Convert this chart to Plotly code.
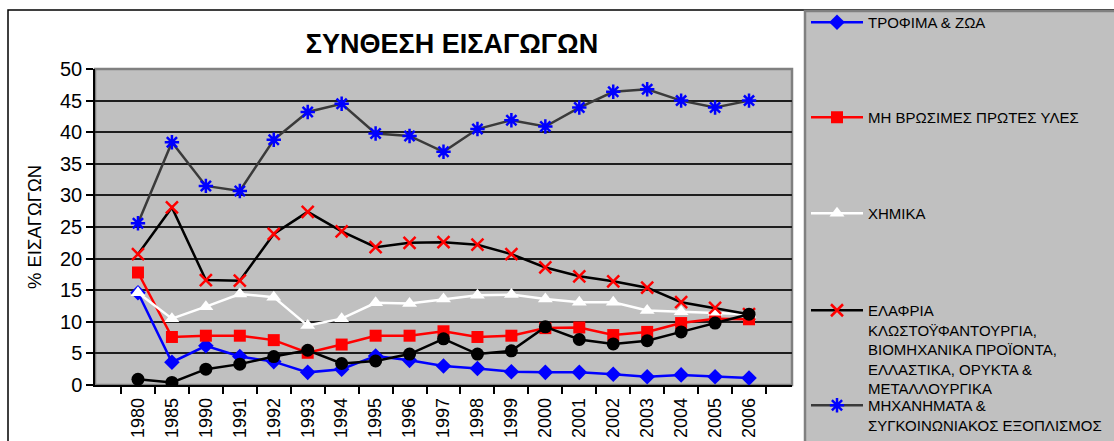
import plotly.graph_objects as go

W, H = 1114, 441

years = ["1980", "1985", "1990", "1991", "1992", "1993", "1994", "1995", "1996",
         "1997", "1998", "1999", "2000", "2001", "2002", "2003", "2004", "2005", "2006"]

trofima = [14.6, 3.6, 6.2, 4.5, 3.7, 2.0, 2.5, 4.6, 3.9, 3.0, 2.6, 2.1, 2.0, 2.0, 1.7, 1.3, 1.6, 1.3, 1.1]
protes_yles = [17.8, 7.6, 7.8, 7.8, 7.1, 5.1, 6.4, 7.8, 7.8, 8.5, 7.6, 7.8, 9.0, 9.1, 7.9, 8.4, 9.8, 10.5, 10.4]
ximika = [14.6, 10.5, 12.4, 14.4, 13.9, 9.4, 10.5, 13.0, 12.9, 13.6, 14.2, 14.3, 13.6, 13.1, 13.1, 11.8, 11.6, 11.5, 11.2]
elafria = [20.7, 28.1, 16.6, 16.5, 23.9, 27.4, 24.3, 21.8, 22.5, 22.6, 22.2, 20.7, 18.6, 17.2, 16.4, 15.4, 13.1, 12.2, 11.2]
mixanimata = [25.6, 38.4, 31.5, 30.7, 38.8, 43.2, 44.5, 39.8, 39.4, 36.9, 40.5, 41.9, 40.9, 43.9, 46.4, 46.8, 45.0, 43.9, 45.0]
loipa = [0.9, 0.4, 2.5, 3.3, 4.5, 5.5, 3.4, 3.8, 4.9, 7.3, 4.9, 5.4, 9.2, 7.2, 6.5, 7.0, 8.4, 9.8, 11.2]

names = [
    "ΤΡΟΦΙΜΑ & ΖΩΑ",
    "ΜΗ ΒΡΩΣΙΜΕΣ ΠΡΩΤΕΣ ΥΛΕΣ",
    "ΧΗΜΙΚΑ",
    "ΕΛΑΦΡΙΑ<br>ΚΛΩΣΤΟΫΦΑΝΤΟΥΡΓΙΑ,<br>ΒΙΟΜΗΧΑΝΙΚΑ ΠΡΟΪΟΝΤΑ,<br>ΕΛΛΑΣΤΙΚΑ, ΟΡΥΚΤΑ &<br>ΜΕΤΑΛΛΟΥΡΓΙΚΑ",
    "ΜΗΧΑΝΗΜΑΤΑ &<br>ΣΥΓΚΟΙΝΩΝΙΑΚΟΣ ΕΞΟΠΛΙΣΜΟΣ",
    "ΛΟΙΠΑ",
]

FONT = "Liberation Sans, Arial, sans-serif"

# plot area in pixels
L, R, T, B = 95, 792, 69, 385

fig = go.Figure()

def add(y, name, lcolor, symbol, mcolor, size, legend, mline=None, show=True):
    marker = dict(symbol=symbol, color=mcolor, size=size)
    if mline:
        marker["line"] = mline
    fig.add_trace(go.Scatter(
        x=years, y=y, name=name, mode="lines+markers",
        line=dict(color=lcolor, width=2.5),
        marker=marker, showlegend=show, legend=legend,
    ))

add(trofima, names[0], "#0000ff", "diamond", "#0000ff", 12, "legend")
add(protes_yles, names[1], "#ff0000", "square", "#ff0000", 12, "legend2")
add(ximika, names[2], "#ffffff", "triangle-up", "#ffffff", 13, "legend3")
add(elafria, names[3], "#000000", "x-thin-open", "#ff0000", 12, "legend4",
    mline=dict(color="#ff0000", width=2.5))
add(mixanimata, names[4], "#3a3a3a", "asterisk-open", "#0000ff", 12, "legend5",
    mline=dict(color="#0000ff", width=2.5))
add(loipa, names[5], "#000000", "circle", "#000000", 13, "legend", show=False)

def cx(px):
    return px / W

def cy(py):
    return 1 - py / H

# vertical position (px) of the first text line of each legend entry
legend_rows = [22, 117, 213, 310, 405]
leg_common = dict(xref="container", yref="container", xanchor="left", yanchor="top",
                  bgcolor="rgba(0,0,0,0)", borderwidth=0, itemwidth=52, valign="top",
                  font=dict(family=FONT, size=15, color="#000000"),
                  itemclick=False, itemdoubleclick=False)
legends = {}
for i, py in enumerate(legend_rows):
    key = "legend" if i == 0 else f"legend{i + 1}"
    legends[key] = dict(leg_common, x=cx(806), y=cy(py - 16))

def px2paper_x(px):
    return (px - L) / (R - L)

def px2paper_y(py):
    return (B - py) / (B - T)

shapes = [
    # chart area border
    dict(type="rect", xref="paper", yref="paper",
         x0=px2paper_x(8), x1=px2paper_x(1130), y0=px2paper_y(460), y1=px2paper_y(10),
         line=dict(color="#000000", width=1.5), fillcolor="rgba(0,0,0,0)", layer="below"),
    # legend box
    dict(type="rect", xref="paper", yref="paper",
         x0=px2paper_x(805), x1=px2paper_x(1130), y0=px2paper_y(460), y1=px2paper_y(11),
         line=dict(color="#808080", width=2.5), fillcolor="#c0c0c0", layer="below"),
    # plot area border
    dict(type="rect", xref="paper", yref="paper", x0=0, x1=1, y0=0, y1=1,
         line=dict(color="#808080", width=2.5), fillcolor="rgba(0,0,0,0)", layer="below"),
]

fig.update_layout(
    width=W, height=H,
    margin=dict(l=L, r=W - R, t=T, b=H - B, pad=0, autoexpand=False),
    paper_bgcolor="#ffffff", plot_bgcolor="#c0c0c0",
    font=dict(family=FONT, color="#000000"),
    title=dict(text="<b>ΣΥΝΘΕΣΗ ΕΙΣΑΓΩΓΩΝ</b>", x=cx(452), xanchor="center",
               y=cy(44), yanchor="middle", yref="container",
               font=dict(family=FONT, size=27, color="#000000")),
    xaxis=dict(type="category", tickson="boundaries", ticks="outside", ticklen=7,
               tickcolor="#000000", tickwidth=1.5, showline=True, linecolor="#000000",
               linewidth=1.5, showgrid=False, tickangle=-90, automargin=False,
               ticklabelstandoff=4,
               tickfont=dict(family=FONT, size=18, color="#000000")),
    yaxis=dict(range=[0, 50], dtick=5, ticks="outside", ticklen=7, tickcolor="#000000",
               tickwidth=1.5, showline=True, linecolor="#000000", linewidth=1.5,
               showgrid=True, gridcolor="#1e1e1e", gridwidth=1.5, zeroline=False,
               automargin=False,
               tickfont=dict(family=FONT, size=20, color="#000000"),
               title=dict(text="% ΕΙΣΑΓΩΓΩΝ", standoff=14,
                          font=dict(family=FONT, size=18.5, color="#000000"))),
    shapes=shapes,
    **legends,
)

fig.write_html("out.html")
